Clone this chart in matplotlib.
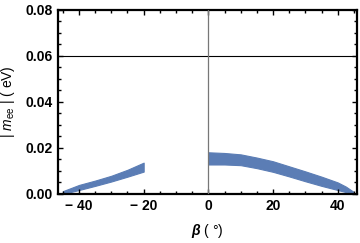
import matplotlib
matplotlib.use("Agg")
import matplotlib.pyplot as plt
from matplotlib.ticker import MultipleLocator, FuncFormatter

# Data
left_beta = [-45, -40, -35, -30, -25, -20]
left_low = [0.0, 0.0017, 0.0035, 0.0054, 0.0075, 0.0097]
left_high = [0.0012, 0.0039, 0.0058, 0.0079, 0.0105, 0.0136]

right_beta = [0, 5, 10, 15, 20, 25, 30, 35, 40, 42.5, 45]
right_low = [0.0128, 0.0128, 0.0125, 0.0112, 0.0096, 0.0076, 0.0055, 0.0035, 0.0017, 0.0008, 0.0]
right_high = [0.0181, 0.0178, 0.0172, 0.0158, 0.0142, 0.0120, 0.0098, 0.0075, 0.0050, 0.0032, 0.0008]

bound = 0.06
x_ticks = [-40, -20, 0, 20, 40]
y_ticks = [0.00, 0.02, 0.04, 0.06, 0.08]

plt.rcParams['font.family'] = ['Liberation Sans', 'DejaVu Sans']
plt.rcParams['mathtext.fontset'] = 'custom'
plt.rcParams['mathtext.it'] = 'Liberation Sans:italic'
plt.rcParams['mathtext.rm'] = 'Liberation Sans'
plt.rcParams['mathtext.bfit'] = 'Liberation Sans:bold:italic'

fig = plt.figure(figsize=(3.6, 2.43), dpi=100)
ax = fig.add_axes([0.161, 0.202, 0.831, 0.757])

col = '#5b7db5'
ax.fill_between(left_beta, left_low, left_high, color=col, lw=0.8, edgecolor=col)
ax.fill_between(right_beta, right_low, right_high, color=col, lw=0.8, edgecolor=col)

ax.axhline(bound, color='black', lw=0.8, zorder=3)
ax.axvline(0, color='#777777', lw=0.9, zorder=3)

ax.set_xlim(-46.5, 46)
ax.set_ylim(0, 0.08)
ax.set_xticks(x_ticks)
ax.set_yticks(y_ticks)
ax.xaxis.set_minor_locator(MultipleLocator(5))
ax.yaxis.set_minor_locator(MultipleLocator(0.005))
ax.xaxis.set_major_formatter(FuncFormatter(lambda v, p: ('\u2212 %d' % abs(v)) if v < 0 else '%d' % v))
ax.yaxis.set_major_formatter(FuncFormatter(lambda v, p: '%.2f' % v))

ax.tick_params(which='both', direction='in', top=True, right=True, width=1.0)
ax.tick_params(which='major', length=3.5, labelsize=10, pad=4)
ax.tick_params(which='minor', length=2)
for lab in ax.get_xticklabels() + ax.get_yticklabels():
    lab.set_fontweight('bold')
for s in ax.spines.values():
    s.set_linewidth(1.6)

ax.set_xlabel(r'$\boldsymbol{\beta}$ ( °)', fontsize=10, labelpad=6)
ax.set_ylabel(r'| $m_{\mathrm{ee}}$ | ( eV)', fontsize=10, labelpad=6)

fig.savefig('out.png', dpi=100)
